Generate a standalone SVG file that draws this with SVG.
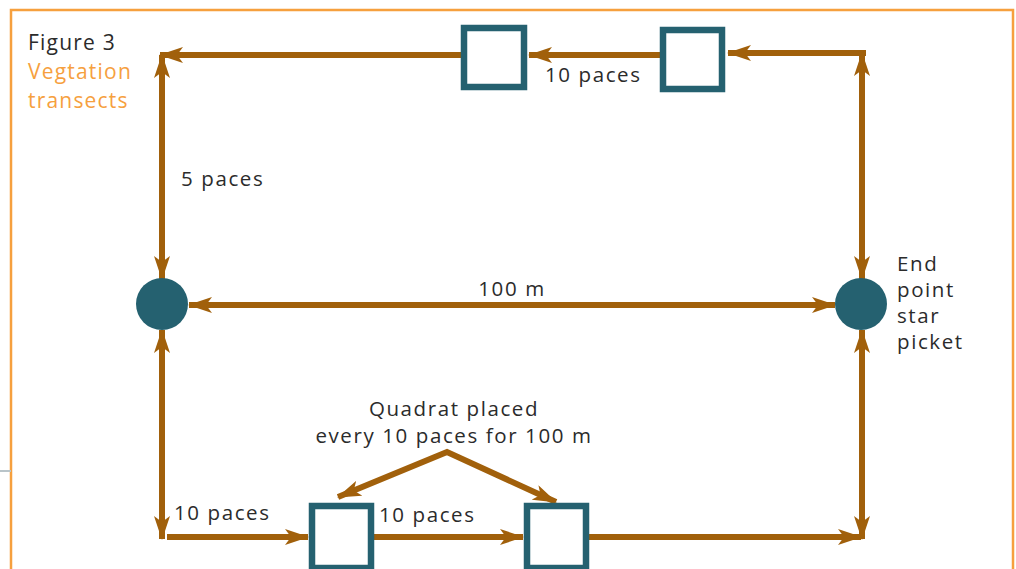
<svg xmlns="http://www.w3.org/2000/svg" width="1016" height="569" viewBox="0 0 1016 569">
  <style>
    .frame { fill: none; stroke: #f6a03e; stroke-width: 2.5; }
    .link { fill: none; stroke: #a1600b; stroke-width: 6; }
    .quad { fill: #ffffff; stroke: #256170; stroke-width: 6.5; }
    .post { fill: #256170; }
    .lbl { font-family: "Open Sans", "Noto Sans", sans-serif; font-size: 20.5px; letter-spacing: 1.6px; fill: #2b2b2b; }
    .ttl { font-family: "Open Sans", "Noto Sans", sans-serif; font-size: 21px; letter-spacing: 1.2px; }
  </style>
  <defs>
    <marker id="head" markerUnits="userSpaceOnUse" viewBox="0 0 24 16" refX="23" refY="8" markerWidth="24" markerHeight="16" orient="auto-start-reverse">
      <path d="M0,0 L24,8 L0,16 L6,8 Z" fill="#a1600b"/>
    </marker>
  </defs>

  <rect width="1016" height="569" fill="#ffffff"/>

  <!-- page frame -->
  <rect class="frame" x="11" y="10" width="1002" height="580"/>
  <line x1="0" y1="471" x2="11" y2="471" stroke="#b9c4c9" stroke-width="2"/>

  <!-- title -->
  <g id="title">
    <text class="ttl" x="28" y="50" fill="#2b2b2b">Figure 3</text>
    <text class="ttl" x="28" y="79" fill="#f6a03e">Vegtation</text>
    <text class="ttl" x="28" y="108" fill="#f6a03e">transects</text>
  </g>

  <!-- connectors -->
  <g id="connectors">
    <!-- top transect, walked right to left -->
    <line class="link" x1="866" y1="53" x2="728" y2="53" marker-end="url(#head)"/>
    <line class="link" x1="660" y1="55" x2="529" y2="55" marker-end="url(#head)"/>
    <line class="link" x1="461" y1="55" x2="160" y2="55" marker-end="url(#head)"/>
    <!-- offsets to the posts -->
    <line class="link" x1="162" y1="55" x2="162" y2="279" marker-start="url(#head)" marker-end="url(#head)"/>
    <line class="link" x1="862" y1="53" x2="862" y2="279" marker-start="url(#head)" marker-end="url(#head)"/>
    <line class="link" x1="162" y1="330" x2="162" y2="539" marker-start="url(#head)" marker-end="url(#head)"/>
    <line class="link" x1="862" y1="330" x2="862" y2="539" marker-start="url(#head)" marker-end="url(#head)"/>
    <!-- baseline between posts -->
    <line class="link" x1="189" y1="305" x2="835" y2="305" marker-start="url(#head)" marker-end="url(#head)"/>
    <!-- bottom transect, walked left to right -->
    <line class="link" x1="167" y1="537" x2="308" y2="537" marker-end="url(#head)"/>
    <line class="link" x1="373" y1="537" x2="523" y2="537" marker-end="url(#head)"/>
    <line class="link" x1="589" y1="537" x2="861" y2="537" marker-end="url(#head)"/>
    <!-- pointer from note to quadrats -->
    <polyline class="link" points="338,497 447,452 556,502" marker-start="url(#head)" marker-end="url(#head)"/>
  </g>

  <!-- quadrats -->
  <g id="quadrat-top-left"><rect class="quad" x="464" y="28" width="60" height="59"/></g>
  <g id="quadrat-top-right"><rect class="quad" x="663" y="30" width="59" height="59"/></g>
  <g id="quadrat-bottom-left"><rect class="quad" x="312" y="506" width="59" height="62"/></g>
  <g id="quadrat-bottom-right"><rect class="quad" x="527" y="506" width="59" height="62"/></g>

  <!-- star pickets -->
  <g id="post-start"><circle class="post" cx="162" cy="304" r="26"/></g>
  <g id="post-end"><circle class="post" cx="861" cy="304" r="26"/></g>

  <!-- labels -->
  <g id="labels">
    <text class="lbl" x="545" y="82">10 paces</text>
    <text class="lbl" x="181" y="186">5 paces</text>
    <text class="lbl" x="512" y="296" text-anchor="middle">100 m</text>
    <text class="lbl" x="897" y="271">End</text>
    <text class="lbl" x="897" y="297">point</text>
    <text class="lbl" x="897" y="323">star</text>
    <text class="lbl" x="897" y="349">picket</text>
    <text class="lbl" x="454" y="416" text-anchor="middle">Quadrat placed</text>
    <text class="lbl" x="454" y="443" text-anchor="middle">every 10 paces for 100 m</text>
    <text class="lbl" x="174" y="520">10 paces</text>
    <text class="lbl" x="379" y="522">10 paces</text>
  </g>
</svg>
